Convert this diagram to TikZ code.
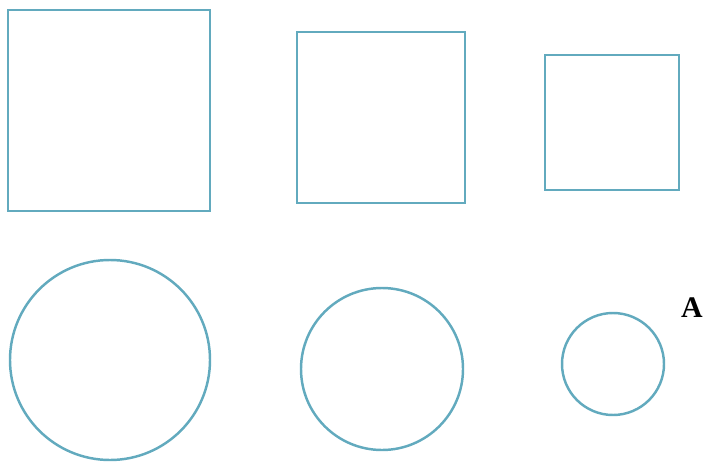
\documentclass[tikz,border=0pt]{standalone}
\usepackage{xcolor}
\usepackage{fontspec}
\setmainfont{Liberation Serif}
\usetikzlibrary{math}
\definecolor{myteal}{RGB}{98, 170, 190}

\begin{document}
\begin{tikzpicture}[line width=1.4pt]
  \useasboundingbox (0,0) rectangle (14.24,9.26);

  % squares, large to small
  \foreach \xa/\ya/\xb/\yb in {0.16/5.04/4.2/9.06, 5.94/5.2/9.3/8.62, 10.9/5.46/13.58/8.16}{
    \draw[myteal] (\xa,\ya) rectangle (\xb,\yb);
  }

  % circles, large to small
  \foreach \cx/\cy/\r in {2.2/2.06/2.0, 7.64/1.88/1.62, 12.26/1.98/1.02}{
    \draw[myteal] (\cx,\cy) circle (\r);
  }

  \node[font=\fontsize{17}{19}\selectfont\bfseries, inner sep=0pt] (lblA) at (13.84,3.1) {A};

\end{tikzpicture}
\end{document}
